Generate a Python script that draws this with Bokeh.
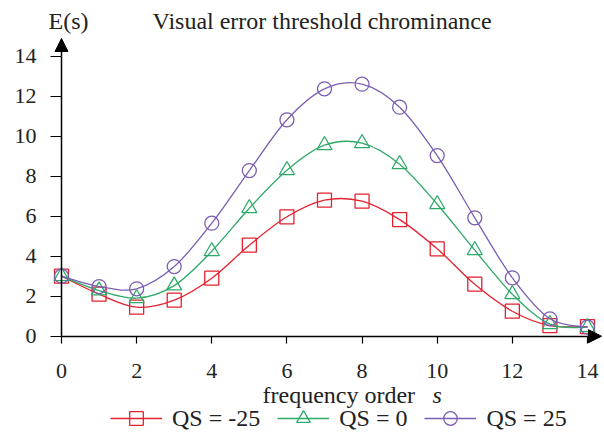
from bokeh.plotting import figure
from bokeh.models import (Range1d, FixedTicker, Label, Legend, LegendItem,
                          Arrow, NormalHead)
from bokeh.embed import file_html
from bokeh.resources import INLINE

# ---- data ----
s_values = [0, 1, 2, 3, 4, 5, 6, 7, 8, 9, 10, 11, 12, 13, 14]
qs_m25 = [3.0, 2.1, 1.45, 1.8, 2.9, 4.55, 5.97, 6.8, 6.75, 5.83, 4.37, 2.6, 1.25, 0.53, 0.48]
qs_0 = [3.0, 2.28, 1.9, 2.53, 4.25, 6.4, 8.3, 9.55, 9.65, 8.6, 6.6, 4.3, 2.1, 0.6, 0.45]
qs_25 = [3.0, 2.48, 2.37, 3.48, 5.65, 8.28, 10.82, 12.37, 12.6, 11.45, 9.03, 5.92, 2.92, 0.87, 0.45]
series_labels = ["QS = -25", "QS = 0", "QS = 25"]
y_ticks = [0, 2, 4, 6, 8, 10, 12, 14]
x_ticks = [0, 2, 4, 6, 8, 10, 12, 14]

colors = ["#e2222e", "#2eaa68", "#7b5db2"]
markers = ["square", "triangle", "circle"]
FONT = "Liberation Serif"
TICK_FONT = "Times"

# screen geometry of the reference (picture pixels)
PX_X = 37.57      # px per unit s
PX_Y = 20.0       # px per unit E
SX0 = 61.0        # x of s=0
SY0 = 335.7       # y of E=0
W, H = 602, 430   # figure size, drawn from the page's top-left corner


def dx(sx):
    return (sx - SX0) / PX_X


def dy(sy):
    return (SY0 - sy) / PX_Y


p = figure(output_backend="svg", toolbar_location=None,
           width=W, height=H,
           min_border_left=0, min_border_right=0,
           min_border_top=0, min_border_bottom=0,
           x_range=Range1d(dx(0), dx(W)),
           y_range=Range1d(dy(H), dy(0)))
p.outline_line_color = None
p.grid.visible = False
p.background_fill_color = "white"
p.border_fill_color = "white"

for ax in (p.xaxis[0], p.yaxis[0]):
    ax.fixed_location = 0
    ax.bounds = (0, 14)
    ax.axis_line_color = "black"
    ax.axis_line_width = 1.5
    ax.major_tick_line_color = "black"
    ax.major_tick_line_width = 1.2
    ax.minor_tick_line_color = None
    ax.major_tick_in = 0
    ax.major_label_text_font = TICK_FONT
    ax.major_label_text_font_size = "22px"
    ax.major_label_text_color = "#222222"

p.xaxis.ticker = FixedTicker(ticks=x_ticks)
p.yaxis.ticker = FixedTicker(ticks=y_ticks)
p.xaxis.major_tick_out = 7
p.yaxis.major_tick_out = 11
p.xaxis.major_label_standoff = 21
p.yaxis.major_label_standoff = 14


def smooth_controls(xs, ys):
    n = len(xs)
    x0, y0, x1, y1, cx0, cy0, cx1, cy1 = [], [], [], [], [], [], [], []
    for i in range(n - 1):
        ip = max(i - 1, 0)
        i2 = min(i + 2, n - 1)
        x0.append(xs[i]); y0.append(ys[i])
        x1.append(xs[i + 1]); y1.append(ys[i + 1])
        cx0.append(xs[i] + (xs[i + 1] - xs[ip]) / 6.0)
        cy0.append(ys[i] + (ys[i + 1] - ys[ip]) / 6.0)
        cx1.append(xs[i + 1] - (xs[i2] - xs[i]) / 6.0)
        cy1.append(ys[i + 1] - (ys[i2] - ys[i]) / 6.0)
    return x0, y0, x1, y1, cx0, cy0, cx1, cy1


items = []
for ys, col, mk, lab in zip([qs_m25, qs_0, qs_25], colors, markers, series_labels):
    x0, y0, x1, y1, cx0, cy0, cx1, cy1 = smooth_controls(s_values, ys)
    r_line = p.bezier(x0=x0, y0=y0, x1=x1, y1=y1, cx0=cx0, cy0=cy0, cx1=cx1, cy1=cy1,
                      line_color=col, line_width=1.3)
    r_pts = p.scatter(s_values, ys, marker=mk, size=14 if mk != "triangle" else 15,
                      line_color=col, line_width=1.3, fill_color=None)
    items.append(LegendItem(label=lab, renderers=[r_line, r_pts]))

legend = Legend(items=items, orientation="horizontal",
                location=(110, H - 435), border_line_color=None,
                background_fill_alpha=0, padding=0, margin=0,
                glyph_width=52, glyph_height=34, label_height=20,
                label_standoff=10, spacing=17,
                label_text_font=TICK_FONT, label_text_font_size="24px",
                label_text_color="#222222")
p.add_layout(legend, "center")

# axis arrows
p.add_layout(Arrow(x_start=0, y_start=14, x_end=0, y_end=dy(38),
                   line_color="black", line_width=1.5,
                   end=NormalHead(size=13, fill_color="black", line_color="black")))
p.add_layout(Arrow(x_start=14, y_start=0, x_end=dx(601), y_end=0,
                   line_color="black", line_width=1.5,
                   end=NormalHead(size=13, fill_color="black", line_color="black")))

# texts
p.add_layout(Label(x=dx(152), y=dy(20), text="Visual error threshold chrominance",
                   text_font=FONT, text_font_size="24px", text_color="#222222",
                   text_baseline="alphabetic"))
p.add_layout(Label(x=dx(48), y=dy(20), text="E(s)",
                   text_font=FONT, text_font_size="24px", text_color="#222222",
                   text_baseline="alphabetic"))
p.add_layout(Label(x=dx(262), y=dy(394), text="frequency order",
                   text_font=FONT, text_font_size="24px", text_color="#222222",
                   text_baseline="alphabetic"))
p.add_layout(Label(x=dx(432), y=dy(394), text="s",
                   text_font=FONT, text_font_size="24px", text_font_style="italic",
                   text_color="#222222", text_baseline="alphabetic"))

open("out.html", "w").write(file_html(p, INLINE))
